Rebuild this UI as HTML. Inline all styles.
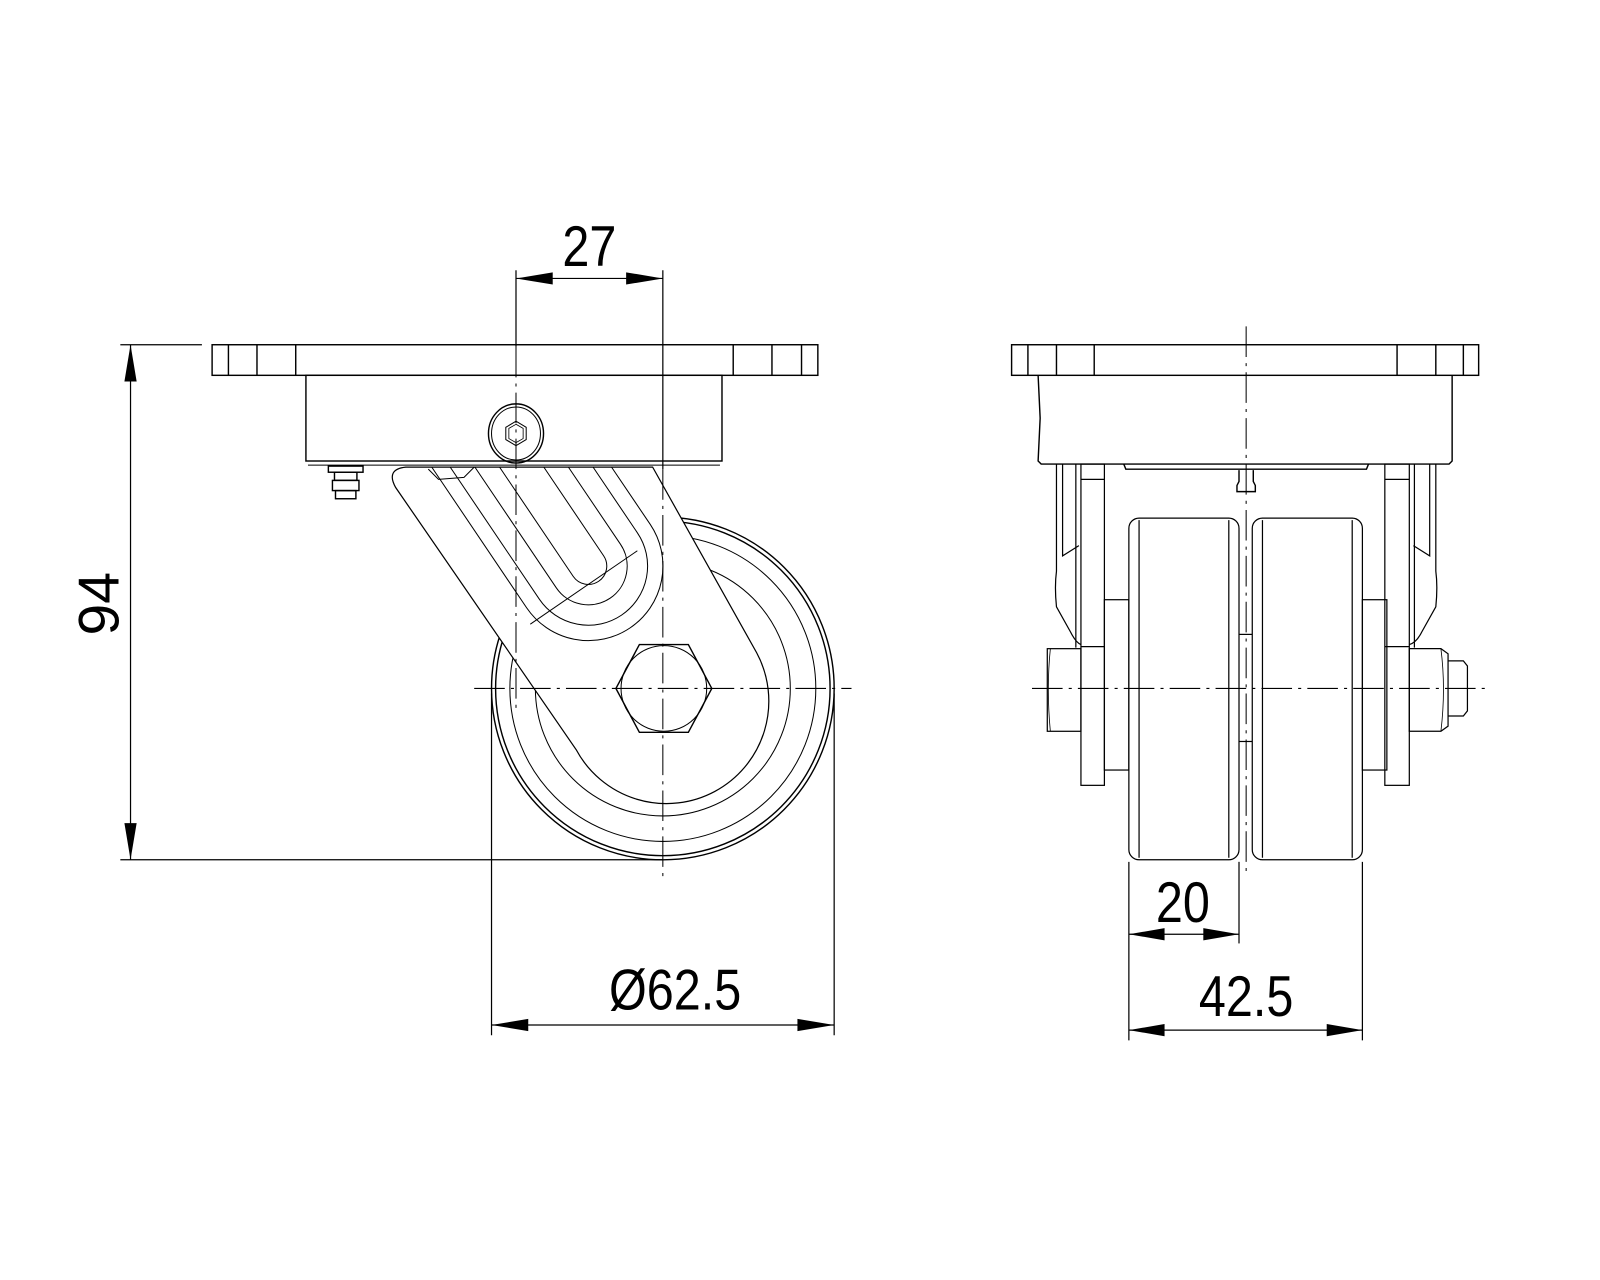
<!DOCTYPE html>
<html><head><meta charset="utf-8"><style>
html,body{margin:0;padding:0;background:#fff;}
svg{display:block;}
text{font-family:"Liberation Sans",sans-serif;fill:#000;}
</style></head><body>
<svg width="1600" height="1280" viewBox="0 0 1569 1255" preserveAspectRatio="none" xmlns="http://www.w3.org/2000/svg">
<g fill="none" stroke="#000" stroke-width="1.4">
<circle cx="650" cy="675" r="168"/>
<circle cx="650" cy="675" r="164"/>
<circle cx="650" cy="675" r="150" stroke-width="1"/>
<circle cx="650" cy="675" r="125" stroke-width="1"/>
<path d="M640,458 L742,640 A100,100 0 0 1 565,735 L388,478 Q378,460 398,458 Z" fill="#fff" stroke-width="1.2"/>
<g stroke-width="1">
<path d="M489.9,458 L562.1,565.1 A18,18 0 0 0 591.9,544.9 L533.3,458"/>
<path d="M465.7,458 L545.5,576.3 A38,38 0 0 0 608.5,533.7 L557.4,458"/>
<path d="M441.5,458 L528.9,587.5 A58,58 0 0 0 625.1,522.5 L581.6,458"/>
<path d="M423.4,458 L516.4,595.9 A73,73 0 0 0 637.6,514.1 L599.7,458"/>
<line x1="520" y1="612" x2="625" y2="540"/>
<path d="M420,460 L430,470 L455,468 L465,458"/>
</g>
<polygon points="604,675 627,632 675,632 698,675 675,718 627,718" fill="#fff"/>
<circle cx="651" cy="675" r="42" stroke-width="1"/>
<rect x="208" y="338" width="594" height="30" fill="#fff"/>
<line x1="224" y1="338" x2="224" y2="368"/><line x1="252" y1="338" x2="252" y2="368"/><line x1="290" y1="338" x2="290" y2="368"/>
<line x1="719" y1="338" x2="719" y2="368"/><line x1="757" y1="338" x2="757" y2="368"/><line x1="786" y1="338" x2="786" y2="368"/>
<rect x="300" y="368" width="408" height="84" fill="#fff"/>
<line x1="302" y1="456" x2="706" y2="456" stroke-width="1"/>
<ellipse cx="506" cy="425" rx="27" ry="29"/>
<ellipse cx="506" cy="425" rx="24" ry="26" stroke-width="1"/>
<polygon points="506,413 516,419 516,431 506,437 496,431 496,419" stroke-width="1"/>
<polygon points="506,416 513,420 513,430 506,434 499,430 499,420" stroke-width="0.8"/>
<rect x="322" y="457" width="34" height="6"/>
<rect x="328" y="463" width="22" height="8"/>
<rect x="326" y="471" width="26" height="10"/>
<rect x="329" y="481" width="20" height="8"/>
<rect x="992" y="338" width="458" height="30"/>
<line x1="1008" y1="338" x2="1008" y2="368"/><line x1="1036" y1="338" x2="1036" y2="368"/><line x1="1073" y1="338" x2="1073" y2="368"/>
<line x1="1370" y1="338" x2="1370" y2="368"/><line x1="1408" y1="338" x2="1408" y2="368"/><line x1="1435" y1="338" x2="1435" y2="368"/>
<path d="M1018,368 L1020,410 L1018,452 L1021,455 L1421,455 L1424,452 L1424,368"/>
<path d="M1102,455 L1104,460 L1340,460 L1342,455"/>
<path d="M1215,461 L1215,472 L1213,476 L1213,482 L1231,482 L1231,476 L1229,472 L1229,461"/>
<g stroke-width="1.2">
<path d="M1036,455 L1036,560 Q1034,575 1036,595 L1050,620 Q1055,630 1060,632"/>
<path d="M1042,455 L1042,545 Q1050,540 1058,535"/>
<line x1="1055" y1="455" x2="1055" y2="635"/>
<rect x="1060" y="455" width="23" height="315"/>
<line x1="1060" y1="470" x2="1083" y2="470"/><line x1="1060" y1="634" x2="1083" y2="634"/>
<path d="M1408,455 L1408,560 Q1410,575 1408,595 L1394,620 Q1389,630 1382,632"/>
<path d="M1402,455 L1402,545 Q1394,540 1386,535"/>
<line x1="1387" y1="455" x2="1387" y2="635"/>
<rect x="1358" y="455" width="24" height="315"/>
<line x1="1358" y1="470" x2="1382" y2="470"/><line x1="1358" y1="634" x2="1382" y2="634"/>
<rect x="1083" y="588" width="24" height="167"/>
<rect x="1336" y="588" width="24" height="167"/>
<rect x="1027" y="636" width="33" height="81"/>
<path d="M1030,636 Q1026,675 1030,717" stroke-width="0.8"/>
<path d="M1382,636 L1413,636 L1420,641 L1420,712 L1413,717 L1382,717 Z"/>
<path d="M1413,636 Q1418,675 1413,717" stroke-width="0.8"/>
<path d="M1420,648 L1435,648 L1439,653 L1439,697 L1435,702 L1420,702"/>
<rect x="1107" y="508" width="108" height="335" rx="10"/>
<line x1="1117" y1="510" x2="1117" y2="841"/><line x1="1205" y1="510" x2="1205" y2="841"/>
<rect x="1228" y="508" width="108" height="335" rx="10"/>
<line x1="1238" y1="510" x2="1238" y2="841"/><line x1="1326" y1="510" x2="1326" y2="841"/>
<line x1="1215" y1="622" x2="1228" y2="622"/><line x1="1215" y1="727" x2="1228" y2="727"/>
</g>
</g>
<g fill="none" stroke="#000" stroke-width="1" stroke-dasharray="30,6,3,6">
<line x1="465" y1="675" x2="835" y2="675"/>
<line x1="650" y1="460" x2="650" y2="860"/>
<line x1="506" y1="340" x2="506" y2="700"/>
<line x1="1012" y1="675" x2="1458" y2="675"/>
<line x1="1222" y1="320" x2="1222" y2="858"/>
</g>
<g stroke="#000" stroke-width="1.2" fill="none">
<line x1="506" y1="265" x2="506" y2="340"/>
<line x1="650" y1="265" x2="650" y2="460"/>
<line x1="506" y1="273" x2="650" y2="273"/>
<line x1="118" y1="338" x2="198" y2="338"/>
<line x1="118" y1="843" x2="650" y2="843"/>
<line x1="128" y1="338" x2="128" y2="843"/>
<line x1="482" y1="680" x2="482" y2="1015"/>
<line x1="818" y1="680" x2="818" y2="1015"/>
<line x1="482" y1="1005" x2="818" y2="1005"/>
<line x1="1107" y1="845" x2="1107" y2="1020"/>
<line x1="1336" y1="845" x2="1336" y2="1020"/>
<line x1="1215" y1="845" x2="1215" y2="925"/>
<line x1="1107" y1="916" x2="1215" y2="916"/>
<line x1="1107" y1="1010" x2="1336" y2="1010"/>
</g>
<g fill="#000">
<polygon points="506,273 542,267 542,279"/><polygon points="650,273 614,267 614,279"/>
<polygon points="128,338 122,374 134,374"/><polygon points="128,843 122,807 134,807"/>
<polygon points="482,1005 518,999 518,1011"/><polygon points="818,1005 782,999 782,1011"/>
<polygon points="1107,916 1142,910 1142,922"/><polygon points="1215,916 1180,910 1180,922"/>
<polygon points="1107,1010 1142,1004 1142,1016"/><polygon points="1336,1010 1301,1004 1301,1016"/>
</g>
<g font-size="56" text-anchor="middle">
<text x="0" y="0" transform="translate(578 261) scale(0.85 1)">27</text>
<text x="0" y="0" transform="translate(116 592) rotate(-90) scale(1 1)">94</text>
<text x="0" y="0" transform="translate(662 990) scale(0.85 1)">Ø62.5</text>
<text x="0" y="0" transform="translate(1160 904) scale(0.85 1)">20</text>
<text x="0" y="0" transform="translate(1222 996) scale(0.85 1)">42.5</text>
</g>
</svg>
</body></html>
